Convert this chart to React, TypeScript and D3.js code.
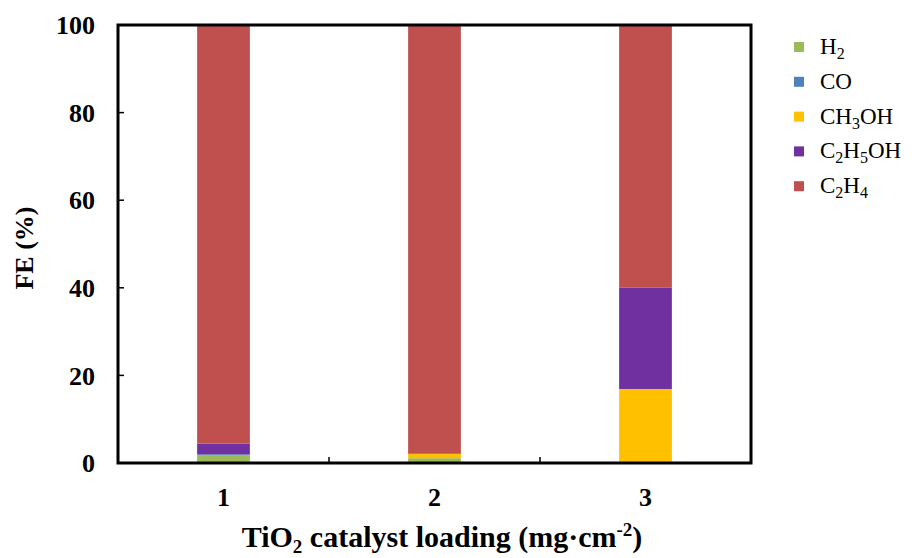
import React, { useEffect, useRef } from 'react'
import * as d3 from 'd3'

const loadings = ['1', '2', '3']
const products = ['H2', 'CO', 'CH3OH', 'C2H5OH', 'C2H4']
const h2 = [1.8, 1.1, 0.3]
const co = [0.2, 0, 0]
const ch3oh = [0, 1.0, 16.6]
const c2h5oh = [2.4, 0, 23.1]
const c2h4 = [95.6, 97.9, 60.0]
const yTicks = [0, 20, 40, 60, 80, 100]
const colors = ['#9BBB59', '#4F81BD', '#FFC000', '#7030A0', '#C0504D']
// legend labels as [text, subscript] pieces
const legendParts: [string, boolean][][] = [
  [['H', false], ['2', true]],
  [['CO', false]],
  [['CH', false], ['3', true], ['OH', false]],
  [['C', false], ['2', true], ['H', false], ['5', true], ['OH', false]],
  [['C', false], ['2', true], ['H', false], ['4', true]],
]

const W = 912
const H = 558
const m = { left: 118, right: 751, top: 25, bottom: 463 }
const font = '"Liberation Serif", "DejaVu Serif", serif'

export default function App() {
  const ref = useRef<SVGSVGElement>(null)

  useEffect(() => {
    const svg = d3.select(ref.current)
    svg.selectAll('*').remove()

    const rows = loadings.map((l, i) => ({
      loading: l,
      H2: h2[i], CO: co[i], CH3OH: ch3oh[i], C2H5OH: c2h5oh[i], C2H4: c2h4[i],
    }))
    const stacked = d3.stack<any>().keys(products)(rows)

    const x = d3.scaleBand().domain(loadings).range([m.left, m.right])
      .paddingInner(0.75).paddingOuter(0.375)
    const y = d3.scaleLinear().domain([0, 100]).range([m.bottom, m.top])

    svg.append('g').selectAll('g').data(stacked).join('g')
      .attr('fill', (_d, i) => colors[i])
      .selectAll('rect').data(d => d).join('rect')
      .attr('x', d => x(d.data.loading)!)
      .attr('width', x.bandwidth())
      .attr('y', d => y(d[1]))
      .attr('height', d => y(d[0]) - y(d[1]))

    // plot frame
    svg.append('rect')
      .attr('x', m.left).attr('y', m.top)
      .attr('width', m.right - m.left).attr('height', m.bottom - m.top)
      .attr('fill', 'none').attr('stroke', '#000').attr('stroke-width', 3)

    // y axis ticks + labels
    const yg = svg.append('g')
    yg.selectAll('line').data(yTicks).join('line')
      .attr('x1', m.left).attr('x2', m.left + 6)
      .attr('y1', d => y(d)).attr('y2', d => y(d))
      .attr('stroke', '#000').attr('stroke-width', 1.5)
    yg.selectAll('text').data(yTicks).join('text')
      .attr('x', m.left - 23).attr('y', d => y(d)).attr('dy', '0.35em')
      .attr('text-anchor', 'end')
      .attr('font-family', font).attr('font-weight', 'bold').attr('font-size', 26)
      .text(d => d)

    // x axis ticks at band edges + labels
    const step = x.step()
    const edges = loadings.slice(1).map(l => x(l)! - (step - x.bandwidth()) / 2)
    svg.append('g').selectAll('line').data(edges).join('line')
      .attr('x1', d => d).attr('x2', d => d)
      .attr('y1', m.bottom).attr('y2', m.bottom - 6)
      .attr('stroke', '#000').attr('stroke-width', 1.5)
    svg.append('g').selectAll('text').data(loadings).join('text')
      .attr('x', d => x(d)! + x.bandwidth() / 2).attr('y', 506)
      .attr('text-anchor', 'middle')
      .attr('font-family', font).attr('font-weight', 'bold').attr('font-size', 26)
      .text(d => d)

    // axis titles
    svg.append('text')
      .attr('transform', `translate(33,${(m.top + m.bottom) / 2 + 4}) rotate(-90)`)
      .attr('text-anchor', 'middle')
      .attr('font-family', font).attr('font-weight', 'bold').attr('font-size', 26)
      .text('FE (%)')

    const xt = svg.append('text')
      .attr('x', 442).attr('y', 547).attr('text-anchor', 'middle')
      .attr('font-family', font).attr('font-weight', 'bold').attr('font-size', 30)
    xt.append('tspan').text('TiO')
    xt.append('tspan').attr('font-size', 19).attr('dy', 6).text('2')
    xt.append('tspan').attr('dy', -6).text(' catalyst loading (mg·cm')
    xt.append('tspan').attr('font-size', 19).attr('dy', -11).text('-2')
    xt.append('tspan').attr('dy', 11).text(')')

    // legend
    const lg = svg.append('g').selectAll('g').data(products).join('g')
      .attr('transform', (_d, i) => `translate(794,${47 + i * 34.8})`)
    lg.append('rect')
      .attr('x', 0).attr('y', -5).attr('width', 10).attr('height', 10)
      .attr('fill', (_d, i) => colors[i])
    lg.each(function (_d, i) {
      const t = d3.select(this).append('text')
        .attr('x', 26).attr('y', 7)
        .attr('font-family', font).attr('font-size', 23)
      let sub = false
      legendParts[i].forEach(([s, isSub]) => {
        const dy = isSub && !sub ? 5 : !isSub && sub ? -5 : 0
        t.append('tspan').attr('dy', dy).attr('font-size', isSub ? 16 : 23).text(s)
        sub = isSub
      })
    })
  }, [])

  return (
    <svg ref={ref} width={W} height={H}
      style={{ position: 'absolute', left: 0, top: 0, background: '#fff' }} />
  )
}
